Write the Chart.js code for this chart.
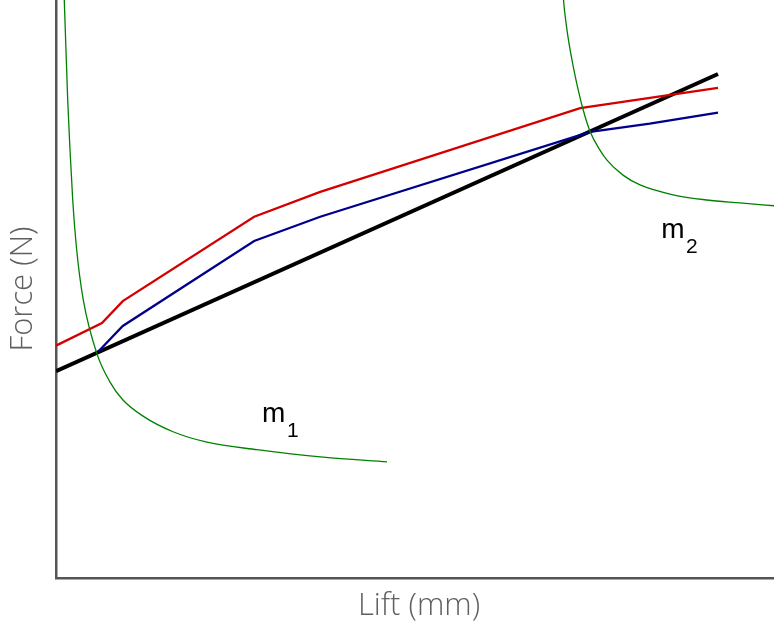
<!DOCTYPE html>
<html>
<head>
<meta charset="utf-8">
<script src="https://cdn.jsdelivr.net/npm/chart.js@4/dist/chart.umd.min.js"></script>
<style>
  html, body { margin: 0; padding: 0; background: #fff; }
  #wrap { width: 774px; height: 625px; position: relative; }
</style>
</head>
<body>
<div id="wrap"><canvas id="c"></canvas></div>
<script>
// Spring force vs. valve lift: two measured curves, the linear spring rate,
// and the two iso-mass hyperbolas m1 and m2.
const redLift   = [0, 0.64, 0.93, 2.76, 3.68, 7.30, 9.22];
const redForce  = [40.2, 44.1, 47.9, 62.5, 66.8, 81.3, 84.8];

const blueLift  = [0.59, 0.93, 2.76, 3.68, 7.44, 8.27, 9.22];
const blueForce = [39.2, 43.6, 58.3, 62.5, 77.2, 78.6, 80.5];

const springLift  = [0, 9.22];
const springForce = [35.8, 87.2];

const m1Lift  = [0.106, 0.163, 0.195, 0.233, 0.288, 0.380, 0.567, 0.752, 0.933, 1.212, 1.630, 2.103, 2.799, 3.719, 4.610];
const m1Force = [103.5, 82.7, 74.1, 65.4, 56.8, 48.1, 38.9, 33.9, 30.8, 28.0, 25.3, 23.5, 22.2, 20.9, 20.1];

const m2Lift  = [7.047, 7.075, 7.117, 7.173, 7.242, 7.340, 7.437, 7.563, 7.674, 7.897, 8.134, 8.593, 9.067, 9.526, 10.0];
const m2Force = [103.5, 99.1, 94.8, 90.5, 86.2, 81.1, 77.3, 74.3, 72.3, 69.7, 68.0, 66.3, 65.4, 64.9, 64.4];

const curveNames = ['m', 'm'];
const curveSubs  = ['1', '2'];
const curveLabelLift  = [2.87, 8.43];
const curveLabelForce = [27.0, 58.8];

const pts = (xs, ys) => xs.map((x, i) => ({ x: x, y: ys[i] }));

// Draws the m₁ / m₂ captions beside their hyperbolas
const curveLabels = {
  id: 'curveLabels',
  afterDatasetsDraw(chart) {
    const { ctx, scales } = chart;
    ctx.save();
    ctx.fillStyle = '#000';
    ctx.textBaseline = 'alphabetic';
    ctx.textAlign = 'left';
    for (let i = 0; i < curveNames.length; i++) {
      const px = scales.x.getPixelForValue(curveLabelLift[i]);
      const py = scales.y.getPixelForValue(curveLabelForce[i]);
      ctx.font = '28px "Liberation Sans", Arial, sans-serif';
      ctx.fillText(curveNames[i], px, py);
      const w = ctx.measureText(curveNames[i]).width;
      ctx.font = '21px "Liberation Sans", Arial, sans-serif';
      ctx.fillText(curveSubs[i], px + w + 1.5, py + 15);
    }
    ctx.restore();
  }
};

const titleFont = { family: '"Open Sans", sans-serif', size: 31, weight: 300 };

new Chart(document.getElementById('c'), {
  type: 'line',
  data: {
    datasets: [
      { data: pts(m1Lift, m1Force), borderColor: '#008000', borderWidth: 1.3, cubicInterpolationMode: 'monotone' },
      { data: pts(m2Lift, m2Force), borderColor: '#008000', borderWidth: 1.3, cubicInterpolationMode: 'monotone' },
      { data: pts(redLift, redForce), borderColor: '#d40000', borderWidth: 2.3 },
      { data: pts(blueLift, blueForce), borderColor: '#00008b', borderWidth: 2.3 },
      { data: pts(springLift, springForce), borderColor: '#000000', borderWidth: 4 }
    ]
  },
  options: {
    responsive: true,
    maintainAspectRatio: false,
    animation: false,
    layout: { padding: 0 },
    elements: { point: { radius: 0 }, line: { tension: 0, fill: false } },
    plugins: { legend: { display: false }, tooltip: { enabled: false } },
    scales: {
      x: {
        type: 'linear', min: 0, max: 10,
        grid: { display: false },
        border: { display: true, color: '#555', width: 2.5 },
        ticks: { display: false },
        title: { display: true, text: ' Lift (mm)', color: '#606060', font: titleFont, padding: { top: 0, bottom: 0 } },
        afterFit(s) { s.height = 47; }
      },
      y: {
        type: 'linear', min: 0, max: 100,
        grid: { display: false },
        border: { display: true, color: '#555', width: 2.5 },
        ticks: { display: false },
        title: { display: true, text: 'Force (N)', color: '#606060', font: titleFont, padding: { top: 5, bottom: 0 } },
        afterFit(s) { s.width = 56; }
      }
    }
  },
  plugins: [curveLabels]
});
</script>
</body>
</html>
